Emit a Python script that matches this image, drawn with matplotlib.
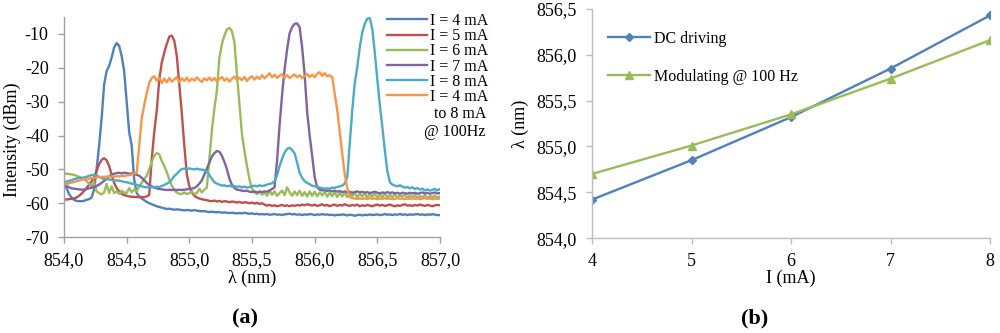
import matplotlib
matplotlib.use('Agg')
import matplotlib.pyplot as plt
import numpy as np
from matplotlib.ticker import FuncFormatter

plt.rcParams['font.family'] = ['Liberation Serif', 'DejaVu Serif']

# wavelength grid of the spectra, 0.02 nm steps
wl = np.arange(854.0, 857.0001, 0.02)

i4 = [-53.3, -55.5, -57.3, -58.3, -59.0, -59.3, -59.4, -59.4, -59.3, -59.0,
      -58.8, -58.3, -56.0, -50.0, -43.0, -35.0, -25.0, -21.0, -19.5, -17.0,
      -14.0, -12.7, -13.5, -16.5, -21.0, -30.0, -39.0, -43.0, -53.0, -57.0,
      -58.0, -58.6, -59.1, -59.6, -60.0, -60.3, -60.6, -60.9, -61.1, -61.3,
      -61.5, -61.7, -61.6, -61.8, -61.9, -61.8, -61.9, -62.0, -62.1, -62.0,
      -62.1, -62.2, -62.0, -62.2, -62.3, -62.4, -62.3, -62.5, -62.6, -62.5,
      -62.6, -62.7, -62.6, -62.8, -62.7, -62.8, -62.9, -62.8, -62.9, -63.0,
      -62.9, -63.0, -62.8, -63.0, -63.1, -63.0, -63.2, -63.1, -63.3, -63.2,
      -63.3, -63.2, -63.4, -63.3, -63.2, -63.4, -63.3, -63.5, -63.3, -63.2,
      -63.1, -63.3, -63.2, -63.4, -63.3, -63.5, -63.3, -63.4, -63.2, -63.3,
      -63.5, -63.3, -63.4, -63.2, -63.4, -63.3, -63.5, -63.4, -63.6, -63.4,
      -63.5, -63.3, -63.4, -63.6, -63.4, -63.5, -63.7, -63.5, -63.4, -63.6,
      -63.4, -63.5, -63.3, -63.5, -63.4, -63.3, -63.5, -63.4, -63.2, -63.4,
      -63.3, -63.5, -63.3, -63.4, -63.2, -63.4, -63.3, -63.5, -63.3, -63.4,
      -63.3, -63.2, -63.4, -63.3, -63.5, -63.3, -63.4, -63.2, -63.4, -63.5,
      -63.5]

i5 = [-58.9, -58.9, -58.8, -58.7, -58.6, -58.3, -57.8, -57.2, -56.4, -55.5,
      -54.5, -53.5, -52.3, -50.5, -48.5, -47.2, -46.7, -47.3, -49.0, -51.5,
      -54.0, -55.5, -56.5, -57.2, -57.6, -57.8, -58.0, -58.1, -58.1, -58.2,
      -58.2, -58.1, -58.2, -58.0, -57.5, -47.0, -39.0, -32.7, -23.5, -18.5,
      -15.5, -13.0, -10.8, -10.5, -12.0, -16.5, -25.0, -33.5, -43.0, -51.5,
      -55.0, -56.8, -57.8, -58.3, -58.6, -58.8, -59.0, -59.1, -59.3, -59.4,
      -59.2, -59.5, -59.3, -59.6, -59.4, -59.5, -59.7, -59.5, -59.6, -59.8,
      -59.6, -59.9, -59.7, -59.8, -60.0, -59.8, -60.1, -59.9, -60.2, -60.0,
      -60.4, -60.7, -60.5, -60.8, -60.6, -60.9, -60.7, -60.5, -60.8, -60.6,
      -60.9, -60.6, -60.8, -60.5, -60.7, -60.4, -60.6, -60.3, -60.5, -60.7,
      -60.4, -60.8, -60.6, -60.3, -60.7, -60.5, -60.9, -60.6, -60.4, -60.8,
      -60.5, -60.7, -60.3, -60.6, -60.8, -60.5, -60.7, -60.4, -60.9, -60.6,
      -60.8, -60.5, -60.7, -60.9, -60.6, -60.4, -60.7, -60.5, -60.8, -60.6,
      -60.4, -60.7, -60.9, -60.6, -60.8, -60.5, -60.3, -60.7, -60.6, -60.8,
      -60.5, -60.7, -60.4, -60.6, -60.8, -60.5, -60.7, -60.9, -60.6, -60.5,
      -60.6]

i6 = [-51.1, -51.3, -51.4, -51.5, -51.6, -51.9, -52.2, -52.5, -52.8, -53.5,
      -54.2, -55.0, -53.8, -56.5, -57.0, -57.4, -56.8, -54.3, -57.0, -55.0,
      -57.0, -56.5, -57.2, -56.3, -56.8, -57.0, -55.5, -56.8, -56.0, -56.5,
      -55.0, -54.0, -52.8, -51.9, -50.0, -47.8, -46.0, -45.2, -45.5, -47.5,
      -49.0, -50.8, -53.0, -54.8, -56.2, -56.8, -57.2, -57.3, -56.8, -57.3,
      -57.0, -56.5, -57.3, -57.0, -55.7, -56.8, -56.0, -55.3, -47.0, -38.5,
      -32.0, -26.7, -17.0, -13.0, -10.5, -8.7, -8.2, -9.2, -12.5, -22.0,
      -31.0, -39.7, -44.5, -49.0, -53.0, -55.7, -56.8, -57.3, -56.5, -57.5,
      -56.8, -57.8, -56.3, -57.5, -56.5, -57.8, -57.0, -56.3, -57.6, -55.3,
      -56.8, -57.8, -56.5, -57.6, -56.3, -57.8, -56.7, -58.0, -56.5, -57.8,
      -56.6, -58.0, -56.8, -57.7, -56.5, -58.1, -56.9, -57.9, -56.7, -58.2,
      -57.0, -58.0, -56.8, -58.2, -57.1, -57.9, -56.9, -58.3, -57.2, -58.0,
      -57.0, -58.3, -57.3, -58.1, -57.0, -58.4, -57.4, -58.2, -57.1, -58.3,
      -57.5, -58.2, -57.3, -58.4, -57.6, -58.1, -57.4, -58.5, -57.7, -58.2,
      -57.6, -58.4, -57.8, -58.3, -57.5, -58.5, -57.9, -58.2, -57.7, -58.4,
      -58.0]

i7 = [-54.5, -54.9, -55.3, -55.6, -55.7, -55.8, -55.9, -56.0, -56.0, -55.8,
      -55.6, -55.4, -55.2, -54.9, -54.5, -54.0, -53.4, -52.8, -52.1, -51.6,
      -51.3, -51.1, -51.0, -51.2, -51.0, -51.1, -51.3, -51.2, -51.4, -51.6,
      -51.9, -52.5, -53.2, -54.0, -54.6, -55.0, -55.4, -55.6, -55.8, -55.9,
      -56.0, -56.1, -56.0, -56.1, -56.0, -56.1, -56.0, -56.1, -56.0, -55.9,
      -55.8, -55.7, -55.5, -55.0, -54.2, -53.2, -51.5, -49.8, -48.0, -46.2,
      -45.2, -44.6, -44.8, -46.0, -47.8, -50.0, -52.8, -54.5, -55.5, -56.0,
      -56.1, -56.3, -56.4, -56.3, -56.6, -56.7, -56.5, -56.8, -56.6, -56.7,
      -56.5, -56.6, -56.2, -55.8, -55.3, -47.4, -37.0, -28.0, -20.5, -14.6,
      -9.8, -8.0, -7.0, -6.9, -8.0, -14.0, -22.0, -33.0, -40.0, -46.0,
      -52.3, -55.3, -56.0, -56.2, -56.0, -56.4, -56.2, -56.5, -56.3, -56.6,
      -56.4, -56.7, -56.5, -56.8, -56.6, -56.9, -56.7, -56.5, -56.8, -56.6,
      -56.9, -56.7, -57.0, -56.8, -56.6, -56.9, -57.1, -56.8, -57.0, -56.7,
      -57.0, -56.8, -57.1, -56.9, -57.2, -56.9, -57.0, -57.2, -56.9, -57.1,
      -56.9, -57.2, -57.0, -56.8, -57.1, -56.9, -57.2, -57.0, -56.8, -57.1,
      -57.0]

i8 = [-53.8, -53.6, -53.4, -53.2, -52.9, -52.7, -52.6, -52.5, -52.4, -52.2,
      -51.9, -51.7, -51.6, -51.8, -52.2, -52.6, -52.8, -52.9, -53.0, -53.1,
      -53.2, -53.3, -53.3, -53.5, -53.7, -53.8, -54.0, -54.2, -54.3, -54.6,
      -54.8, -55.0, -55.2, -55.3, -55.3, -55.2, -55.3, -55.1, -55.2, -54.9,
      -54.6, -54.2, -53.8, -53.0, -52.0, -51.3, -50.5, -49.9, -49.8, -49.9,
      -49.7, -49.9, -50.0, -49.8, -50.0, -50.1, -50.2, -50.6, -51.7, -52.8,
      -53.8, -54.2, -54.5, -54.8, -54.7, -55.0, -54.8, -55.1, -54.9, -55.2,
      -55.0, -55.3, -55.1, -55.4, -55.2, -55.0, -54.8, -55.0, -54.7, -54.9,
      -54.8, -54.5, -54.3, -54.1, -53.5, -51.8, -49.0, -46.9, -45.0, -44.0,
      -43.6, -44.3, -45.3, -48.0, -51.0, -52.5, -53.5, -54.0, -54.4, -54.8,
      -55.0, -55.2, -55.4, -55.6, -55.7, -55.6, -55.7, -55.4, -55.5, -55.2,
      -55.0, -54.8, -54.2, -52.3, -42.5, -32.5, -24.5, -19.8, -13.9, -9.5,
      -7.0, -5.5, -5.3, -8.5, -15.6, -23.5, -31.0, -37.5, -44.4, -50.5,
      -53.8, -54.5, -54.8, -55.0, -54.7, -55.1, -55.4, -55.2, -55.6, -55.3,
      -55.8, -55.5, -56.0, -55.7, -56.2, -55.9, -56.3, -56.0, -55.8, -56.2,
      -55.8]

i_mod = [-54.5, -54.3, -54.1, -53.9, -53.7, -53.5, -53.3, -53.1, -52.9, -52.8,
         -52.7, -52.6, -52.5, -52.4, -52.3, -52.2, -52.2, -52.1, -52.2, -52.1,
         -52.2, -52.0, -52.1, -51.9, -52.0, -51.8, -51.7, -51.5, -51.2, -51.0,
         -43.0, -35.0, -31.0, -27.5, -24.5, -23.0, -22.5, -23.8, -23.0, -24.5,
         -23.2, -24.3, -23.0, -24.1, -23.4, -22.8, -24.2, -23.1, -23.9, -22.9,
         -24.0, -23.2, -23.8, -22.8, -23.6, -24.2, -23.1, -23.7, -22.9, -23.8,
         -23.0, -24.0, -23.3, -22.7, -23.8, -23.1, -24.1, -23.2, -22.6, -23.6,
         -22.9, -23.7, -22.7, -23.9, -23.0, -22.5, -23.5, -22.6, -23.3, -22.2,
         -23.1, -22.4, -21.6, -22.8, -22.1, -23.0, -22.3, -21.9, -22.9, -22.2,
         -23.0, -22.5, -22.0, -22.8, -22.2, -23.1, -22.4, -21.8, -22.7, -22.0,
         -22.8, -21.8, -21.3, -22.4, -21.6, -22.5, -22.2, -22.8, -27.7, -32.5,
         -39.0, -45.4, -51.5, -55.5, -58.2, -58.5, -58.6, -58.7, -58.6, -58.7,
         -58.6, -58.7, -58.5, -58.7, -58.6, -58.8, -58.6, -58.7, -58.5, -58.7,
         -58.6, -58.8, -58.7, -58.5, -58.7, -58.6, -58.8, -58.6, -58.7, -58.5,
         -58.7, -58.6, -58.8, -58.6, -58.5, -58.7, -58.6, -58.8, -58.6, -58.7,
         -58.6]

spectra = [i4, i5, i6, i7, i8, i_mod]
spec_labels = ['I = 4 mA', 'I = 5 mA', 'I = 6 mA', 'I = 7 mA', 'I = 8 mA', 'I = 4 mA']
spec_colors = ['#4F81BD', '#C0504D', '#9BBB59', '#8064A2', '#4BACC6', '#F79646']

# peak wavelength vs current
current = [4, 5, 6, 7, 8]
dc_peak = [854.42, 854.85, 855.32, 855.85, 856.43]
mod_peak = [854.70, 855.01, 855.35, 855.74, 856.16]


def comma(v, pos):
    return ('%.1f' % v).replace('.', ',')


def style(ax, gray):
    for s in ['top', 'right']:
        ax.spines[s].set_visible(False)
    for s in ['left', 'bottom']:
        ax.spines[s].set_color(gray)
        ax.spines[s].set_linewidth(1.0)
    ax.tick_params(direction='out', length=4, width=1.0, color=gray,
                   labelsize=13, pad=7)


fig = plt.figure(figsize=(10, 3.33), dpi=100)

# (a) spectra
ax1 = fig.add_axes([0.064, 0.288, 0.376, 0.661])
for y, lab, c in zip(spectra, spec_labels, spec_colors):
    ax1.plot(wl, y, color=c, lw=1.7, label=lab)
ax1.set_xlim(854.0, 857.0)
ax1.set_ylim(-70, -5)
ax1.set_xticks(np.arange(854.0, 857.01, 0.5))
ax1.set_yticks(np.arange(-70, -9, 10))
ax1.xaxis.set_major_formatter(FuncFormatter(comma))
ax1.yaxis.set_major_formatter(FuncFormatter(lambda v, p: '%d' % v))
style(ax1, '#A0A0A0')
ax1.set_xlabel('λ (nm)', fontsize=13)
ax1.xaxis.set_label_coords(0.5, -0.186)
ax1.xaxis.label.set_va('center')
ax1.set_ylabel('Intensity (dBm)', fontsize=13)
ax1.yaxis.set_label_coords(-0.138, 0.44)
ax1.yaxis.label.set_va('center')

leg1 = ax1.legend(loc='upper right', bbox_to_anchor=(0.488, 1 - 13 / 333),
                  bbox_transform=fig.transFigure, frameon=False, fontsize=11.5,
                  handlelength=2.5, handletextpad=0.2, labelspacing=-0.05,
                  borderpad=0, borderaxespad=0)
fig.text(0.486, 1 - 114 / 333, 'to 8 mA', ha='right', va='center', fontsize=11.5)
fig.text(0.486, 1 - 132 / 333, '@ 100Hz', ha='right', va='center', fontsize=11.5)

# (b) peak wavelength
ax2 = fig.add_axes([0.592, 0.285, 0.398, 0.688])
ax2.plot(current, dc_peak, color='#4F81BD', lw=1.7, marker='D', ms=4.5,
         label='DC driving')
ax2.plot(current, mod_peak, color='#9BBB59', lw=1.7, marker='^', ms=6,
         label='Modulating @ 100 Hz')
ax2.set_xlim(4, 8)
ax2.set_ylim(854.0, 856.5)
ax2.set_xticks(current)
ax2.set_yticks(np.arange(854.0, 856.51, 0.5))
ax2.yaxis.set_major_formatter(FuncFormatter(comma))
style(ax2, '#BDBDBD')
ax2.set_xlabel('I (mA)', fontsize=13)
ax2.xaxis.set_label_coords(0.5, -0.175)
ax2.xaxis.label.set_va('center')
ax2.set_ylabel('λ (nm)', fontsize=13)
ax2.yaxis.set_label_coords(-0.181, 0.5)
ax2.yaxis.label.set_va('center')
ax2.legend(loc='upper left', bbox_to_anchor=(0.608, 1 - 31 / 333),
           bbox_transform=fig.transFigure, frameon=False, fontsize=11.5,
           handlelength=2.6, handletextpad=0.3, labelspacing=1.35,
           borderpad=0, borderaxespad=0)

fig.text(0.245, 1 - 318 / 333, '(a)', ha='center', va='center', fontsize=16,
         fontweight='bold')
fig.text(0.755, 1 - 318 / 333, '(b)', ha='center', va='center', fontsize=16,
         fontweight='bold')

fig.savefig('out.png', dpi=100)
